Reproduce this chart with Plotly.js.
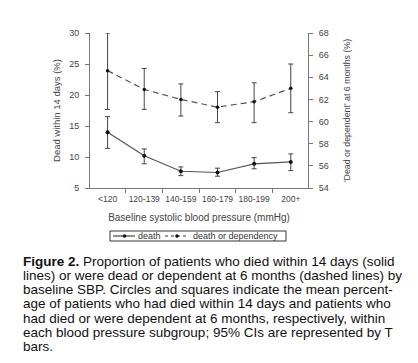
<!DOCTYPE html>
<html>
<head>
<meta charset="utf-8">
<script src="https://cdn.plot.ly/plotly-3.0.1.min.js"></script>
<style>
html,body{margin:0;padding:0;background:#fff;}
#chart{width:418px;height:363px;}
</style>
</head>
<body>
<div id="chart"></div>
<script>
const categories = ['<120', '120-139', '140-159', '160-179', '180-199', '200+'];
const death = [14.0, 10.2, 7.7, 7.5, 8.9, 9.2];
const deathHi = [16.5, 11.3, 8.4, 8.2, 9.9, 10.5];
const deathLo = [11.4, 8.9, 7.0, 6.9, 8.1, 7.8];
const dep = [64.6, 62.9, 62.0, 61.3, 61.8, 63.0];
const depHi = [68.0, 64.8, 63.4, 62.7, 63.5, 65.2];
const depLo = [61.1, 61.1, 60.5, 59.9, 59.9, 60.8];
const leftTicks = [5, 10, 15, 20, 25, 30];
const rightTicks = [54, 56, 58, 60, 62, 64, 66, 68];
const seriesNames = ['death', 'death or dependency'];
const captionLines = [
  '<b>Figure 2.</b> Proportion of patients who died within 14 days (solid',
  'lines) or were dead or dependent at 6 months (dashed lines) by',
  'baseline SBP. Circles and squares indicate the mean percent-',
  'age of patients who had died within 14 days and patients who',
  'had died or were dependent at 6 months, respectively, within',
  'each blood pressure subgroup; 95% CIs are represented by T',
  'bars.'
];

const FONT = 'Liberation Sans, Arial, sans-serif';
const lineCol = '#555';
const W = 418, H = 363;
const M = {l: 90, r: 110, t: 33, b: 175};
const plotW = W - M.l - M.r, plotH = H - M.t - M.b;
const px2x = px => (px - M.l) / plotW;
const py2y = py => (H - M.b - py) / plotH;

const traces = [
  {
    x: categories, y: death, name: seriesNames[0], type: 'scatter', mode: 'lines+markers',
    line: {color: lineCol, width: 1.2, dash: 'solid'},
    marker: {color: '#111', size: 4, symbol: 'circle'},
    error_y: {type: 'data', symmetric: false,
      array: deathHi.map((v, i) => v - death[i]),
      arrayminus: death.map((v, i) => v - deathLo[i]),
      color: '#444', thickness: 1, width: 2.5},
    yaxis: 'y', showlegend: false
  },
  {
    x: categories, y: dep, name: seriesNames[1], type: 'scatter', mode: 'lines+markers',
    line: {color: lineCol, width: 1.2, dash: '6px,4px'},
    marker: {color: '#111', size: 3.5, symbol: 'circle'},
    error_y: {type: 'data', symmetric: false,
      array: depHi.map((v, i) => v - dep[i]),
      arrayminus: dep.map((v, i) => v - depLo[i]),
      color: '#444', thickness: 1, width: 2.5},
    yaxis: 'y2', showlegend: false
  }
];

// caption lines
const annotations = captionLines.map((t, i) => ({
  xref: 'paper', yref: 'paper', x: px2x(21), y: py2y(261 + 14.33 * i),
  xanchor: 'left', yanchor: 'middle', text: t, showarrow: false, align: 'left',
  font: {family: FONT, size: 13.5, color: '#111'}
}));

// compact legend box (key lines + labels)
const LG = {x0: 110, x1: 286, y0: 231, y1: 241};
const ly = (LG.y0 + LG.y1) / 2;
const shapes = [
  {type: 'rect', xref: 'paper', yref: 'paper', x0: px2x(LG.x0), x1: px2x(LG.x1), y0: py2y(LG.y0), y1: py2y(LG.y1),
   line: {color: '#333', width: 1}, fillcolor: 'rgba(0,0,0,0)'},
  {type: 'line', xref: 'paper', yref: 'paper', x0: px2x(113), x1: px2x(135), y0: py2y(ly), y1: py2y(ly),
   line: {color: '#333', width: 1.1}},
  {type: 'line', xref: 'paper', yref: 'paper', x0: px2x(165), x1: px2x(189), y0: py2y(ly), y1: py2y(ly),
   line: {color: '#333', width: 1.1, dash: '3px,3px'}},
  {type: 'circle', xref: 'paper', yref: 'paper', x0: px2x(123), x1: px2x(126), y0: py2y(ly - 1.5), y1: py2y(ly + 1.5),
   line: {color: '#111', width: 0.5}, fillcolor: '#111'},
  {type: 'circle', xref: 'paper', yref: 'paper', x0: px2x(175.5), x1: px2x(178.5), y0: py2y(ly - 1.5), y1: py2y(ly + 1.5),
   line: {color: '#111', width: 0.5}, fillcolor: '#111'}
];
annotations.push(
  {xref: 'paper', yref: 'paper', x: px2x(136), y: py2y(ly), xanchor: 'left', yanchor: 'middle',
   text: seriesNames[0], showarrow: false, font: {family: FONT, size: 9, color: '#333'}},
  {xref: 'paper', yref: 'paper', x: px2x(191), y: py2y(ly), xanchor: 'left', yanchor: 'middle',
   text: seriesNames[1], showarrow: false, font: {family: FONT, size: 9, color: '#333'}}
);

const layout = {
  width: W, height: H,
  margin: {l: M.l, r: M.r, t: M.t, b: M.b, pad: 0},
  paper_bgcolor: '#fff', plot_bgcolor: '#fff',
  font: {family: FONT, size: 9, color: '#444'},
  showlegend: false,
  xaxis: {
    type: 'category', range: [-0.48, 5.47],
    showline: true, linecolor: '#777', linewidth: 1,
    ticks: 'outside', ticklen: 4, tickcolor: '#777', tickson: 'boundaries',
    showgrid: false, zeroline: false, tickangle: 0,
    tickfont: {size: 8.5, color: '#444'},
    ticklabelstandoff: 3,
    title: {text: 'Baseline systolic blood pressure (mmHg)', font: {size: 10, color: '#444'}, standoff: 10}
  },
  yaxis: {
    range: [5, 30], tickvals: leftTicks,
    showline: true, linecolor: '#777', linewidth: 1,
    ticks: 'outside', ticklen: 4, tickcolor: '#777',
    showgrid: false, zeroline: false,
    tickfont: {size: 9, color: '#444'},
    ticklabelstandoff: 4,
    title: {text: 'Dead within 14 days (%)', font: {size: 9.5, color: '#444'}, standoff: 6}
  },
  yaxis2: {
    range: [54, 68], tickvals: rightTicks, overlaying: 'y', side: 'right',
    showline: true, linecolor: '#777', linewidth: 1,
    ticks: 'outside', ticklen: 4, tickcolor: '#777',
    showgrid: false, zeroline: false,
    tickfont: {size: 9, color: '#444'},
    ticklabelstandoff: 4,
    title: {text: "'Dead or dependent' at 6 months (%)", font: {size: 8.8, color: '#444'}, standoff: 16}
  },
  shapes: shapes,
  annotations: annotations
};

Plotly.newPlot('chart', traces, layout, {displayModeBar: false, staticPlot: true});
</script>
</body>
</html>
